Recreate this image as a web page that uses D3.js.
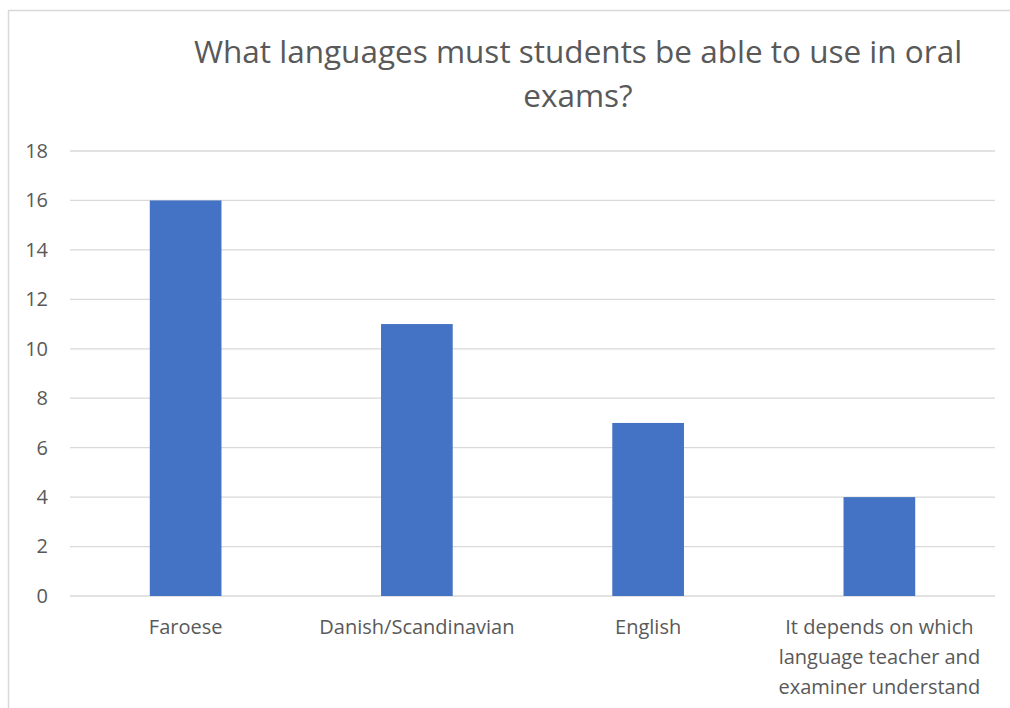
<!doctype html>
<html>
  <head>
    <meta charset="utf-8">
    <script src="https://cdn.jsdelivr.net/npm/d3@7"></script>
    <style>
    body { margin: 0; background: #fff; }
    .chart { font-family: 'Open Sans', sans-serif; }
    #title text { font-size: 31.5px; fill: #595959; }
    #y-axis .tick text { font-size: 20px; fill: #595959; font-family: 'Open Sans', sans-serif; }
    .x-label { font-size: 20px; fill: #595959; }
    </style>
  </head>
  <body>
    <svg class="chart"></svg>
  <script>

    const categories = ["Faroese", "Danish/Scandinavian", "English", "It depends on which|language teacher and|examiner understand"]
    const counts = [16, 11, 7, 4]
    const yTicks = [0, 2, 4, 6, 8, 10, 12, 14, 16, 18]
    const titleLines = ["What languages must students be able to use in oral", "exams?"]

    const W = 1010, H = 708
    const margin = { left: 70, top: 151, right: 15, bottom: 112 },
        width = W - margin.left - margin.right,
        height = H - margin.top - margin.bottom

    let svg = d3.select(".chart")
                .attr("width", W)
                .attr("height", H)

    // outer frame, runs off right and bottom
    svg.append("rect")
      .attr("x", 8.5).attr("y", 10.5)
      .attr("width", 1010).attr("height", 720)
      .attr("fill", "none")
      .attr("stroke", "#d9d9d9")
      .attr("stroke-width", 1.5)

    let title = svg.append("g").attr("id", "title")
    title.selectAll("text")
      .data(titleLines)
      .enter().append("text")
        .attr("x", 578)
        .attr("y", (d, i) => 63 + i * 44)
        .attr("text-anchor", "middle")
        .text(d => d)

    const xScale = d3.scaleBand()
                     .domain(categories)
                     .range([0, width])
                     .paddingInner(0.69)
                     .paddingOuter(0.345)

    const yScale = d3.scaleLinear()
                     .domain([0, 18])
                     .range([height, 0])

    let chart = svg.append("g")
                   .attr("transform", "translate(" + margin.left + "," + margin.top + ")")

    chart.selectAll(".grid")
      .data(yTicks)
      .enter().append("line")
        .attr("class", "grid")
        .attr("x1", 0).attr("x2", width)
        .attr("y1", d => yScale(d)).attr("y2", d => yScale(d))
        .attr("stroke", "#d9d9d9")
        .attr("stroke-width", 1.3)

    const yAxis = d3.axisLeft(yScale).tickValues(yTicks).tickSize(0).tickPadding(22)
    chart.append("g")
      .attr("id", "y-axis")
      .call(yAxis)
      .call(g => g.select(".domain").remove())

    chart.selectAll(".bar")
      .data(counts)
      .enter().append("rect")
        .attr("class", "bar")
        .attr("x", (d, i) => xScale(categories[i]))
        .attr("y", d => yScale(d))
        .attr("width", xScale.bandwidth())
        .attr("height", d => height - yScale(d))
        .attr("fill", "#4472c4")

    chart.selectAll(".x-label")
      .data(categories)
      .enter().append("text")
        .attr("class", "x-label")
        .attr("text-anchor", "middle")
        .attr("transform", d => "translate(" + (xScale(d) + xScale.bandwidth() / 2) + "," + (height + 38) + ")")
        .selectAll("tspan")
        .data(d => d.split("|"))
        .enter().append("tspan")
          .attr("x", 0)
          .attr("y", (d, i) => i * 30)
          .text(d => d)

  </script>
  </body>
</html>
